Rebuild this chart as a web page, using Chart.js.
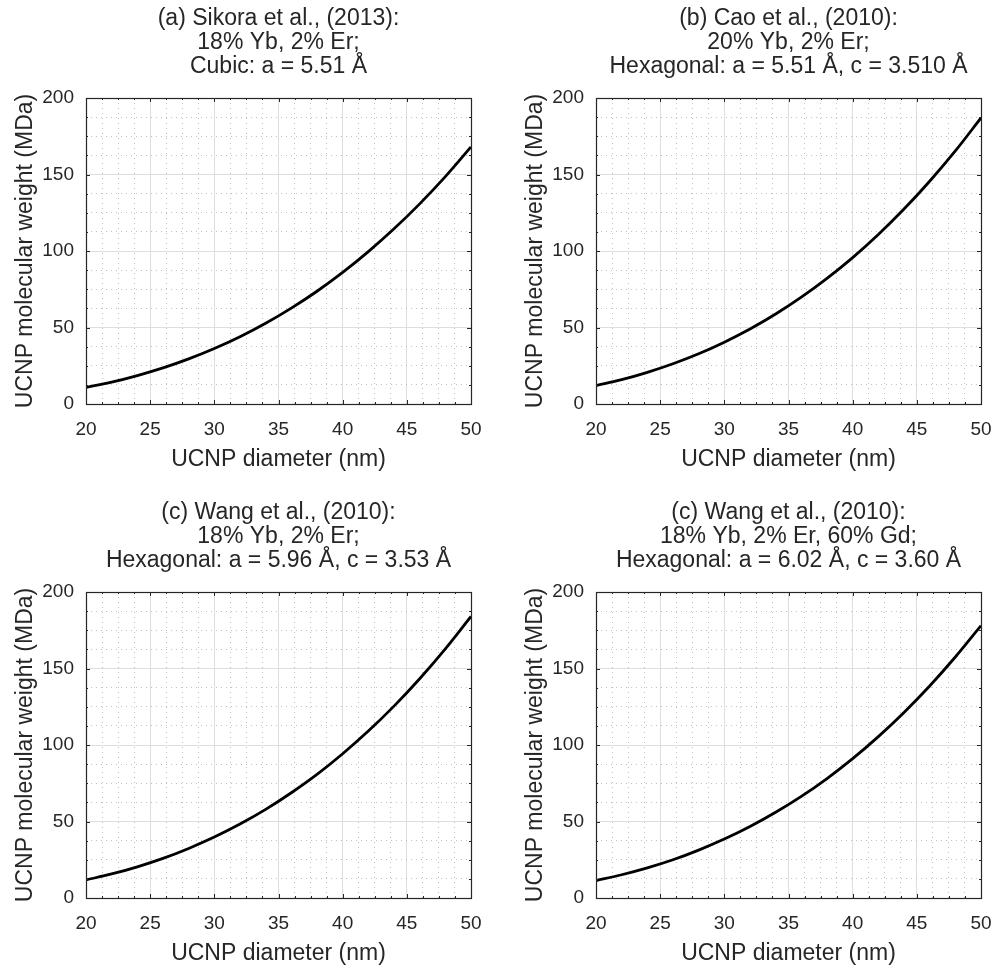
<!DOCTYPE html>
<html><head><meta charset="utf-8">
<script src="https://cdn.jsdelivr.net/npm/chart.js@4"></script>
<style>
html,body{margin:0;padding:0;background:#fff;overflow:hidden;width:995px;height:966px;position:relative;}
canvas{position:absolute;}
</style></head><body>
<canvas id="c0"></canvas><canvas id="c1"></canvas><canvas id="c2"></canvas><canvas id="c3"></canvas>
<script>
// ---- data ----
const diameters = [20, 22, 24, 26, 28, 30, 32, 34, 36, 38, 40, 42, 44, 46, 48, 50];
const weightsA = [10.8, 14.3, 18.6, 23.6, 29.5, 36.3, 44.0, 52.8, 62.7, 73.7, 86.0, 99.6, 114.5, 130.8, 148.6, 168.0];
const weightsB = [12.0, 15.9, 20.7, 26.3, 32.8, 40.4, 49.0, 58.8, 69.8, 82.1, 95.7, 110.8, 127.4, 145.6, 165.4, 187.0];
const weightsC = [11.8, 15.7, 20.4, 25.9, 32.4, 39.8, 48.3, 57.9, 68.8, 80.8, 94.3, 109.1, 125.4, 143.3, 162.8, 184.0];
const weightsD = [11.4, 15.2, 19.7, 25.0, 31.3, 38.5, 46.7, 56.0, 66.4, 78.1, 91.1, 105.5, 121.3, 138.6, 157.5, 178.0];
const titlesA = ['(a) Sikora et al., (2013):', '18% Yb, 2% Er;', 'Cubic: a = 5.51 Å'];
const titlesB = ['(b) Cao et al., (2010):', '20% Yb, 2% Er;', 'Hexagonal: a = 5.51 Å, c = 3.510 Å'];
const titlesC = ['(c) Wang et al., (2010):', '18% Yb, 2% Er;', 'Hexagonal: a = 5.96 Å, c = 3.53 Å'];
const titlesD = ['(c) Wang et al., (2010):', '18% Yb, 2% Er, 60% Gd;', 'Hexagonal: a = 6.02 Å, c = 3.60 Å'];
const xMajorTicks = [20, 25, 30, 35, 40, 45, 50];
const yMajorTicks = [0, 50, 100, 150, 200];
const xLabel = 'UCNP diameter (nm)';
const yLabel = 'UCNP molecular weight (MDa)';

// ---- style ----
const FONT = '"Liberation Sans", Arial, Helvetica, sans-serif';
const TXT = '#262626';
const X_MINOR = 1.25, Y_MINOR = 12.5;
Chart.defaults.font.family = FONT;
Chart.defaults.color = TXT;

const panels = [
  {id: 'c0', left: 0,   top: 0,   w: weightsA, t: titlesA},
  {id: 'c1', left: 510, top: 0,   w: weightsB, t: titlesB},
  {id: 'c2', left: 0,   top: 494, w: weightsC, t: titlesC},
  {id: 'c3', left: 510, top: 494, w: weightsD, t: titlesD}
];
const W = 497, H = 483, PAD_TOP = 98, PAD_RIGHT = 26, Y_W = 86, X_H = 79;

const isMajorX = v => xMajorTicks.some(m => Math.abs(m - v) < 1e-6);
const isMajorY = v => yMajorTicks.some(m => Math.abs(m - v) < 1e-6);

const boxPlugin = {
  id: 'box',
  afterDatasetsDraw(chart) {
    const {ctx, chartArea: a, scales} = chart;
    ctx.save();
    ctx.strokeStyle = TXT;
    ctx.lineWidth = 1;
    ctx.beginPath();
    scales.x.ticks.forEach(t => {
      const px = Math.round(scales.x.getPixelForValue(t.value)) + 0.5;
      const len = isMajorX(t.value) ? 4 : 2;
      ctx.moveTo(px, a.bottom); ctx.lineTo(px, a.bottom - len);
      ctx.moveTo(px, a.top); ctx.lineTo(px, a.top + len);
    });
    scales.y.ticks.forEach(t => {
      const py = Math.round(scales.y.getPixelForValue(t.value)) + 0.5;
      const len = isMajorY(t.value) ? 4 : 2;
      ctx.moveTo(a.left, py); ctx.lineTo(a.left + len, py);
      ctx.moveTo(a.right, py); ctx.lineTo(a.right - len, py);
    });
    ctx.stroke();
    ctx.lineWidth = 1.2;
    ctx.strokeRect(Math.round(a.left) + 0.5, Math.round(a.top) + 0.5,
                   Math.round(a.right - a.left), Math.round(a.bottom - a.top));
    ctx.restore();
  },
  afterDraw(chart) {
    const {ctx, chartArea: a} = chart;
    const lines = chart.options.plugins.box.lines;
    ctx.save();
    ctx.fillStyle = TXT;
    ctx.font = '23px ' + FONT;
    ctx.textAlign = 'center';
    ctx.textBaseline = 'middle';
    const cx = (a.left + a.right) / 2;
    lines.forEach((s, i) => ctx.fillText(s, cx, a.top - 79 + 24 * i));
    ctx.restore();
  }
};

panels.forEach(p => {
  const cv = document.getElementById(p.id);
  cv.width = W; cv.height = H;
  cv.style.left = p.left + 'px'; cv.style.top = p.top + 'px';
  cv.style.width = W + 'px'; cv.style.height = H + 'px';
  new Chart(cv, {
    type: 'line',
    data: {
      datasets: [{
        data: diameters.map((d, i) => ({x: d, y: p.w[i]})),
        borderColor: '#000', borderWidth: 2.8, pointRadius: 0,
        fill: false, cubicInterpolationMode: 'monotone'
      }]
    },
    options: {
      responsive: false, animation: false, devicePixelRatio: 1,
      layout: {padding: {top: PAD_TOP, right: PAD_RIGHT, left: 0, bottom: 0}},
      plugins: {legend: {display: false}, tooltip: {enabled: false}, box: {lines: p.t}},
      scales: {
        x: {
          type: 'linear', min: 20, max: 50,
          afterFit: s => { s.height = X_H; },
          ticks: {stepSize: X_MINOR, autoSkip: false, maxTicksLimit: 100, maxRotation: 0,
                  padding: 14, color: TXT, font: {size: 19},
                  callback: v => isMajorX(v) ? String(v) : ''},
          grid: {drawTicks: false, lineWidth: 1,
                 color: c => isMajorX(c.tick.value) ? '#dedede' : '#c2c2c2'},
          border: {display: false, dash: c => (c.tick && !isMajorX(c.tick.value)) ? [1, 4] : []},
          title: {display: true, text: xLabel, color: TXT, font: {size: 23}, padding: {top: 0, bottom: 10}}
        },
        y: {
          type: 'linear', min: 0, max: 200,
          afterFit: s => { s.width = Y_W; },
          ticks: {stepSize: Y_MINOR, autoSkip: false, maxTicksLimit: 100,
                  padding: 12, color: TXT, font: {size: 19},
                  callback: v => isMajorY(v) ? String(v) : ''},
          grid: {drawTicks: false, lineWidth: 1,
                 color: c => isMajorY(c.tick.value) ? '#dedede' : '#c2c2c2'},
          border: {display: false, dash: c => (c.tick && !isMajorY(c.tick.value)) ? [1, 4] : []},
          title: {display: true, text: yLabel, color: TXT, font: {size: 23}, padding: {top: 12, bottom: 0}}
        }
      }
    },
    plugins: [boxPlugin]
  });
});
</script>
</body></html>
